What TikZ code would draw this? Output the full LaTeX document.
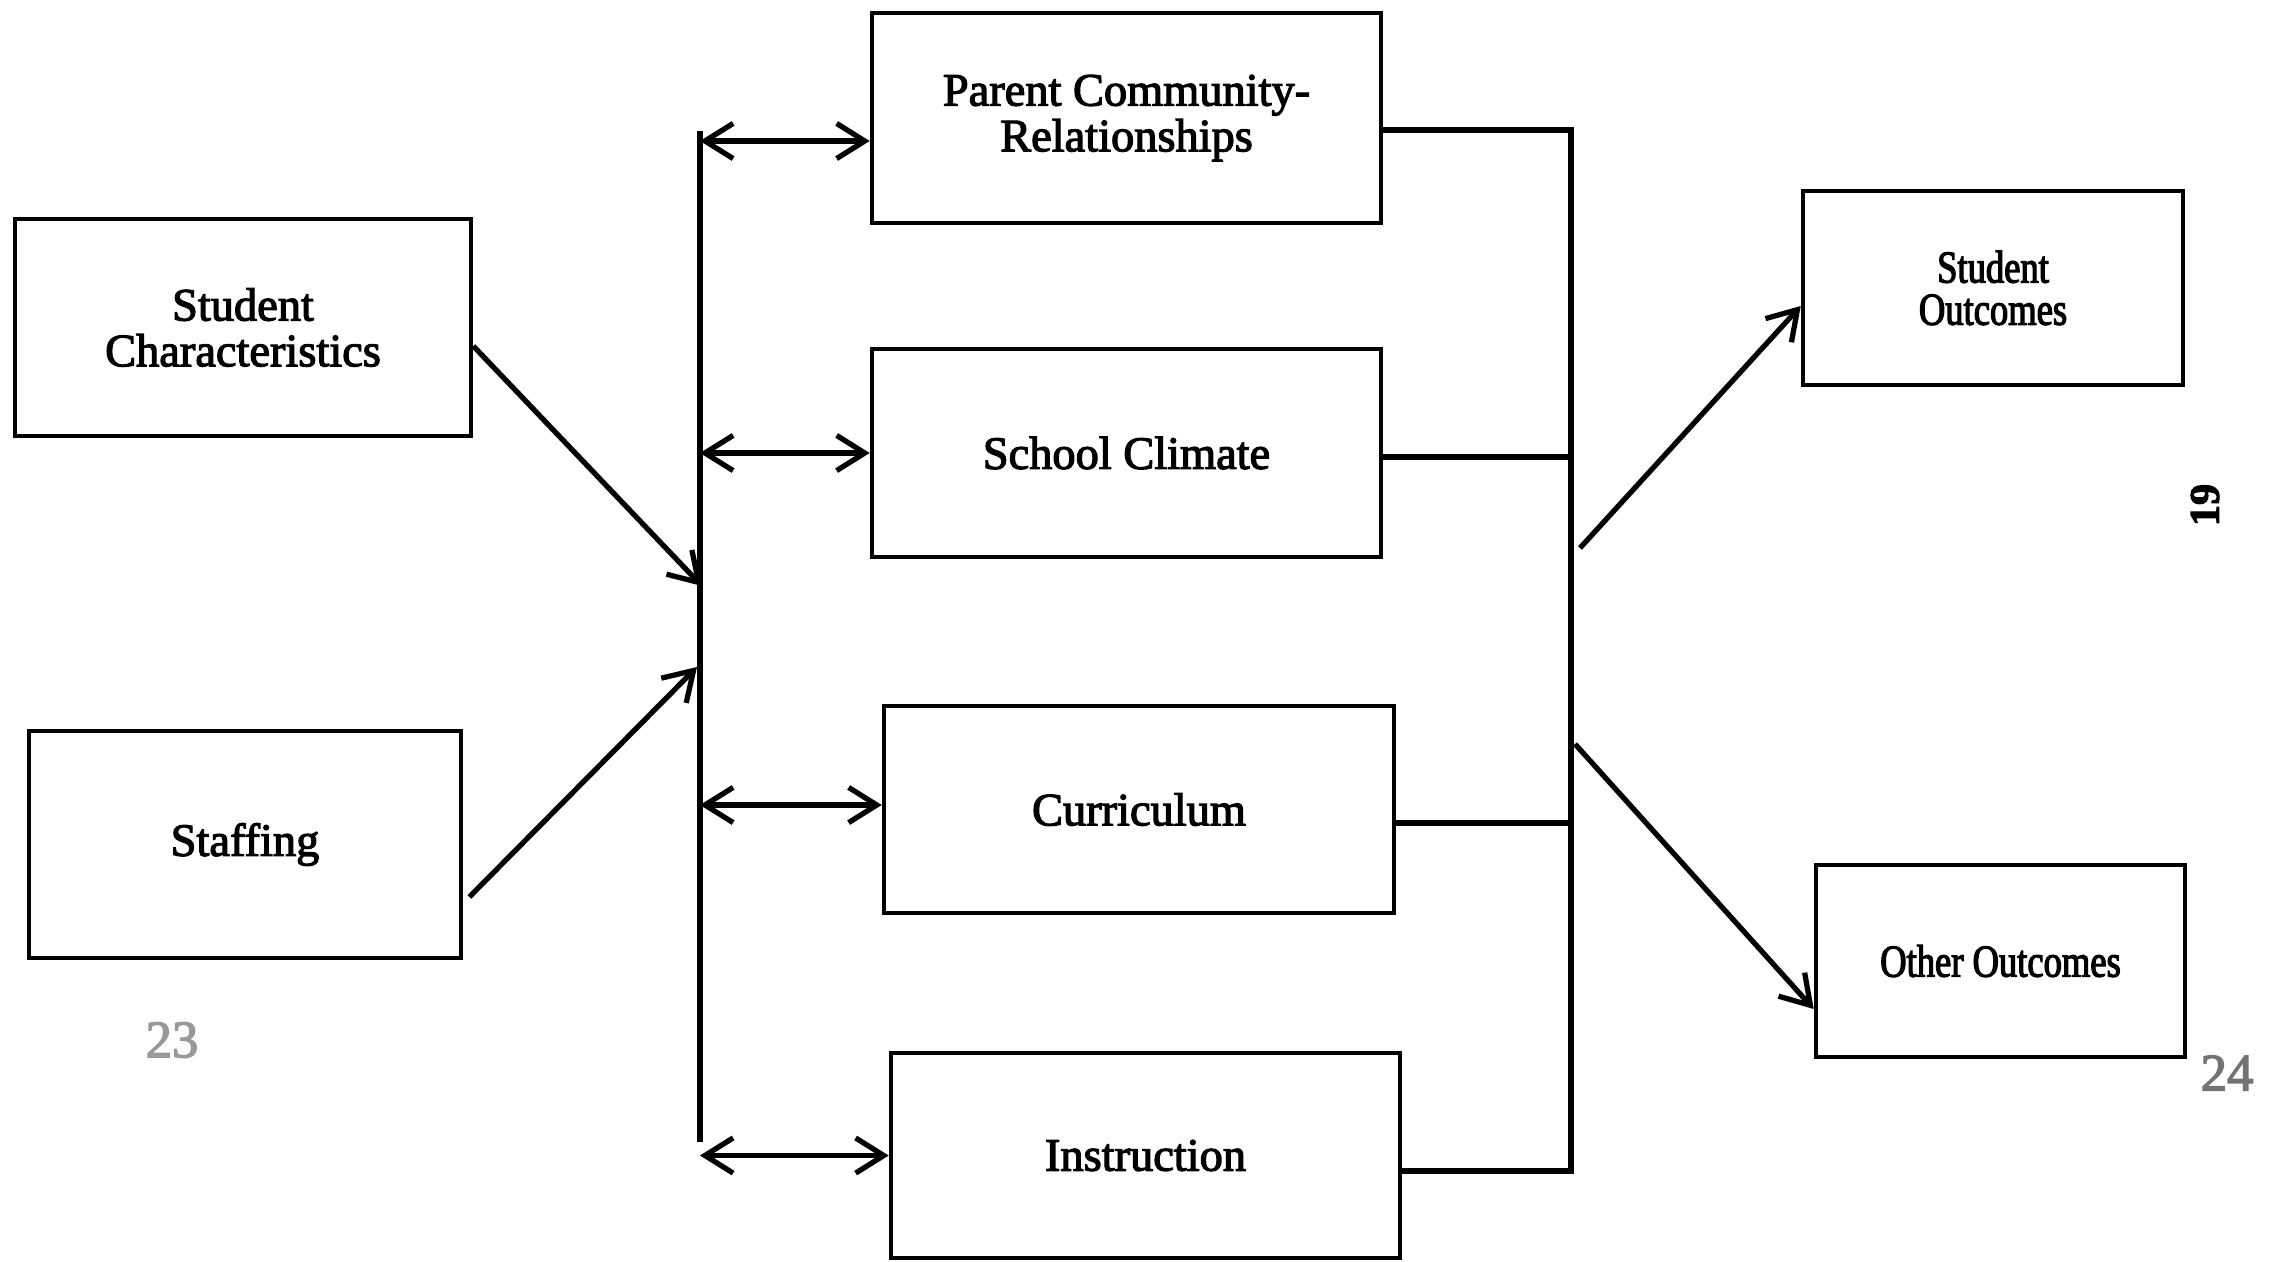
\documentclass[tikz,border=0pt]{standalone}
\usepackage{fontspec}
\setmainfont[FakeBold=2.6]{Liberation Serif}
\newfontfamily\narrowfont[FakeStretch=0.8,FakeBold=2.6]{Liberation Serif}
\usetikzlibrary{arrows.meta}

\begin{document}
\begin{tikzpicture}[>={Straight Barb[length=8pt,width=10pt]}, line width=1.5pt,
    box/.style={draw, line width=1.3pt, align=center, font=\fontsize{13.2}{13}\selectfont},
    outbox/.style={draw, line width=1.3pt, align=center, font=\narrowfont\fontsize{13}{12}\selectfont}]
  \useasboundingbox (0,0) rectangle (22.87,-12.61);
  % inputs
  \node[box, minimum width=4.56cm, minimum height=2.17cm] (stud) at (2.43,-3.275) {Student\\Characteristics};
  \node[box, minimum width=4.32cm, minimum height=2.27cm] (staff) at (2.45,-8.445) {Staffing};
  % school processes
  \node[box, minimum width=5.09cm, minimum height=2.10cm] (parent) at (11.265,-1.18) {Parent Community-\\Relationships};
  \node[box, minimum width=5.09cm, minimum height=2.08cm] (climate) at (11.265,-4.53) {School Climate};
  \node[box, minimum width=5.10cm, minimum height=2.07cm] (curric) at (11.39,-8.095) {Curriculum};
  \node[box, minimum width=5.09cm, minimum height=2.05cm] (instr) at (11.455,-11.555) {Instruction};
  % outcomes
  \node[outbox, minimum width=3.80cm, minimum height=1.94cm] (sout) at (19.93,-2.88) {Student\\Outcomes};
  \node[outbox, minimum width=3.69cm, minimum height=1.92cm] (oout) at (20.005,-9.61) {Other Outcomes};

  % left bar and the two-way arrows
  \coordinate (ltop) at (7.00,-1.31);
  \coordinate (lbot) at (7.00,-11.42);
  \draw (ltop) -- (lbot);
  \draw[<->] ([yshift=-2.3mm]parent.west -| ltop) -- ([yshift=-2.3mm]parent.west);
  \draw[<->] (climate.west -| ltop) -- (climate.west);
  \draw[<->] ([yshift=0.45mm]curric.west -| ltop) -- ([yshift=0.45mm]curric.west);
  \draw[<->] (instr.west -| ltop) -- (instr.west);

  % inputs into the bar
  \coordinate (lin1) at (7.02,-5.86);
  \coordinate (lin2) at (6.97,-6.67);
  \draw[->] ([yshift=-1.85mm]stud.east) -- (lin1);
  \draw[->] ([xshift=0.6mm,yshift=-5.25mm]staff.east) -- (lin2);

  % right bar
  \coordinate (rbar) at (15.71,-6);
  \draw ([yshift=-1.2mm]parent.east) -| ([yshift=-1.55mm]instr.east -| rbar) -- ([yshift=-1.55mm]instr.east);
  \draw ([yshift=-0.4mm]climate.east) -- ([yshift=-0.4mm]climate.east -| rbar);
  \draw ([yshift=-1.35mm]curric.east) -- ([yshift=-1.35mm]curric.east -| rbar);

  % out to the outcomes
  \coordinate (rout1) at (15.80,-5.48);
  \coordinate (rout2) at (15.75,-7.44);
  \draw[->] (rout1) -- ([yshift=-1.8mm]sout.west);
  \draw[->] (rout2) -- ([yshift=-4.8mm]oout.west);

  % page marks
  \node[rotate=90, font=\bfseries\fontsize{12}{12}\selectfont] (pgno) at (22.05,-5.05) {19};
  \node[text=black!40, font=\fontsize{15}{15}\selectfont] (lnum) at (1.72,-10.40) {23};
  \node[text=black!55, font=\fontsize{15}{15}\selectfont] (rnum) at (22.27,-10.73) {24};
\end{tikzpicture}
\end{document}
